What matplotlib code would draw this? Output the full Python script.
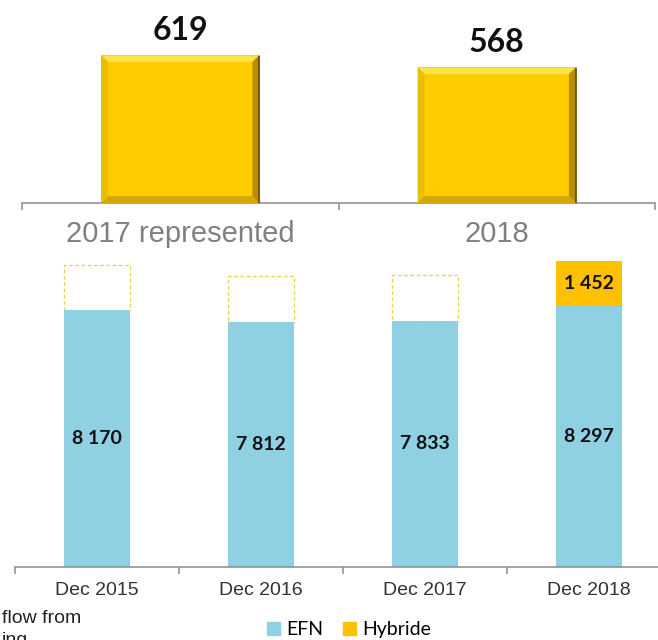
import matplotlib
matplotlib.use("Agg")
import matplotlib.pyplot as plt
from matplotlib.patches import Polygon, Patch

# ---- data -------------------------------------------------------------
top_categories = ["2017 represented", "2018"]
top_values = [619, 568]

bottom_categories = ["Dec 2015", "Dec 2016", "Dec 2017", "Dec 2018"]
efn_values = [8170, 7812, 7833, 8297]
hybride_values = [0, 0, 0, 1452]
# dashed outline slot shown above EFN where no Hybride figure exists
hybride_outline = [1452, 1452, 1452, 0]

# ---- style ------------------------------------------------------------
GOLD = "#FFCC00"
HYB = "#FFC000"
BLUE = "#8FD0E2"
AXIS_GREY = "#8C8C8C"
NUM_FONT = ["Lato", "DejaVu Sans"]
LBL_FONT = ["Liberation Sans", "DejaVu Sans"]

fig = plt.figure(figsize=(6.58, 6.40), dpi=100)
W, H = 658, 640


def axes_px(left, top, right, bottom):
    """Create axes from pixel edges measured from the top-left corner."""
    return fig.add_axes([left / W, 1 - bottom / H, (right - left) / W, (bottom - top) / H])


def style_axis(ax, n, pad):
    for s in ("top", "right", "left"):
        ax.spines[s].set_visible(False)
    ax.spines["bottom"].set_color(AXIS_GREY)
    ax.spines["bottom"].set_linewidth(1.1)
    ax.set_yticks([])
    ax.set_xticks([i - 0.5 for i in range(n + 1)])
    ax.set_xticklabels([])
    ax.tick_params(axis="x", which="major", direction="out", length=5,
                   width=1.1, color=AXIS_GREY)
    ax.set_xticks(range(n), minor=True)
    ax.tick_params(axis="x", which="minor", length=0, pad=pad)
    ax.set_xlim(-0.5, n - 0.5)


def bevel(ax, rect, b_px=7):
    """Draw a bevelled edge around a bar rectangle."""
    x0, y0 = rect.get_x(), rect.get_y()
    x1, y1 = x0 + rect.get_width(), y0 + rect.get_height()
    inv = ax.transData.inverted()
    px0 = ax.transData.transform((x0, y0))
    bx = inv.transform(px0 + (b_px, 0))[0] - x0
    by = inv.transform(px0 + (0, b_px))[1] - y0
    faces = [
        ([(x0, y1), (x1, y1), (x1 - bx, y1 - by), (x0 + bx, y1 - by)], "#FFE347"),
        ([(x1, y1), (x1, y0), (x1 - bx, y0 + by), (x1 - bx, y1 - by)], "#B88E00"),
        ([(x0, y0), (x1, y0), (x1 - bx, y0 + by), (x0 + bx, y0 + by)], "#D6A600"),
        ([(x0, y0), (x0, y1), (x0 + bx, y1 - by), (x0 + bx, y0 + by)], "#EDBE00"),
    ]
    for pts, c in faces:
        ax.add_patch(Polygon(pts, closed=True, facecolor=c, edgecolor="none", zorder=3))
    ax.plot([x1, x1], [y0, y1], color="#5E4B00", lw=1.2, zorder=4, solid_capstyle="butt")
    ax.plot([x0, x1], [y1, y1], color="#C9C9C9", lw=0.6, zorder=4)


# ---- upper chart --------------------------------------------------------
ax1 = axes_px(22, 0, 655, 203)
style_axis(ax1, len(top_categories), pad=12)
ax1.set_ylim(0, 849)
ax1.set_xticklabels(top_categories, minor=True, fontsize=21, color="#808080",
                    family=LBL_FONT)
bars = ax1.bar(range(len(top_values)), top_values, width=0.5, color=GOLD, zorder=2)
for rect, v in zip(bars, top_values):
    bevel(ax1, rect)
    ax1.annotate(f"{v}", (rect.get_x() + rect.get_width() / 2, v),
                 xytext=(0, 15), textcoords="offset pixels", ha="center", va="baseline",
                 fontsize=23, fontweight="bold", family=NUM_FONT, color="#111111")

# ---- lower chart --------------------------------------------------------
ax2 = axes_px(15, 250, 671, 567)
style_axis(ax2, len(bottom_categories), pad=11)
ax2.set_ylim(0, 10089)
ax2.set_xticklabels(bottom_categories, minor=True, fontsize=14, color="#333333",
                    family=LBL_FONT)
x = range(len(bottom_categories))
efn = ax2.bar(x, efn_values, width=0.4, color=BLUE, zorder=2)
hyb = ax2.bar(x, hybride_values, width=0.4, bottom=efn_values, color=HYB, zorder=2)
ax2.bar(x, hybride_outline, width=0.4, bottom=efn_values, facecolor="none",
        edgecolor="#F2CF4A", linestyle=(0, (3, 2)), linewidth=0.9, zorder=1)

for rect, v in zip(efn, efn_values):
    ax2.text(rect.get_x() + rect.get_width() / 2, v / 2, f"{v:,}".replace(",", " "),
             ha="center", va="center", fontsize=14, fontweight="bold",
             family=NUM_FONT, color="#111111", zorder=5)
for rect, base, v in zip(hyb, efn_values, hybride_values):
    if v:
        ax2.text(rect.get_x() + rect.get_width() / 2, base + v / 2,
                 f"{v:,}".replace(",", " "), ha="center", va="center", fontsize=14,
                 fontweight="bold", family=NUM_FONT, color="#111111", zorder=5)

fig.legend(handles=[Patch(color=BLUE, label="EFN"), Patch(color=HYB, label="Hybride")],
           loc="center", bbox_to_anchor=(0.53, 0.016), ncol=2, frameon=False,
           handlelength=0.7, handleheight=0.7, handletextpad=0.3, columnspacing=1.0,
           prop={"family": NUM_FONT, "size": 14})

# footnote along the lower-left edge, running off the bottom of the figure
fig.text(2 / W, 1 - 623 / H, "flow from", fontsize=14, family=LBL_FONT,
         color="#222222", ha="left", va="baseline")
fig.text(2 / W, 1 - 645 / H, "ing", fontsize=14, family=LBL_FONT,
         color="#222222", ha="left", va="baseline")

fig.savefig("out.png", dpi=100)
